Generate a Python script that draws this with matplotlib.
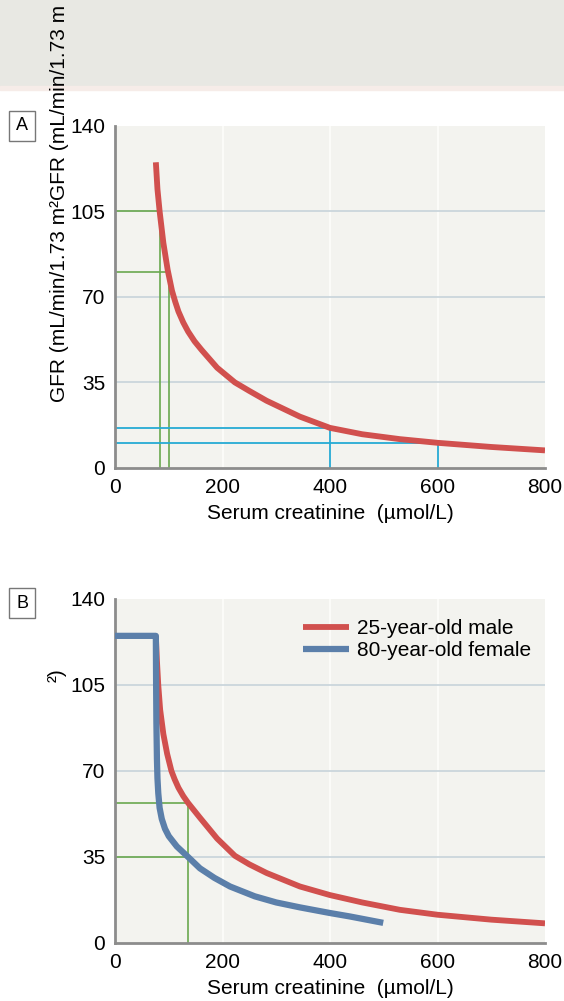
import numpy as np
import matplotlib
matplotlib.use("Agg")
import matplotlib.pyplot as plt
from matplotlib.patches import Rectangle

plt.rcParams['font.family'] = ['Liberation Sans', 'DejaVu Sans']

## DATA
# panel A: GFR vs serum creatinine
cr_red_a = [76, 79, 83, 90, 98, 106, 112, 118, 127, 136, 148, 161, 190, 223, 250, 282, 344, 400, 460, 530, 600, 700, 800]
gfr_red_a = [125, 114, 105, 92, 81, 72.5, 68, 64, 59.5, 55.8, 51.8, 48.3, 41, 35, 31.5, 27.5, 21, 16.4, 13.8, 11.8, 10.3, 8.6, 7.2]

# reference markers in A
green_a_x = [83, 100]
green_a_y = [105, 80]
blue_a_x = [400, 600]
blue_a_y = [16.2, 10.2]

# panel B: young male vs old female
cr_red_b = [76, 78, 80.5, 84, 90, 97, 105, 111, 118, 127, 136, 158, 190, 223, 250, 282, 344, 400, 460, 530, 600, 700, 800]
gfr_red_b = [125, 115, 105, 95, 85, 77, 70, 66.6, 63.2, 59.8, 57, 51, 42.5, 35.5, 32, 28.5, 23, 19.5, 16.5, 13.5, 11.5, 9.5, 8]
cr_blue_b = [0, 76, 76.5, 77, 78, 79, 80.5, 83, 87, 93, 100, 115, 136, 158, 185, 214, 260, 300, 344, 400, 437, 499]
gfr_blue_b = [125, 125, 105, 90, 75, 67, 61, 55, 50.5, 46.5, 43.5, 39.3, 35, 30.4, 26.5, 23, 19, 16.5, 14.5, 12.2, 10.8, 8.2]
green_b_x = 136
green_b_y = [57, 35]

labels_b = ['25-year-old male', '80-year-old female']

x_ticks = [0, 200, 400, 600, 800]
y_ticks = [0, 35, 70, 105, 140]

RED = '#d1504e'
BLUE = '#5b7faa'
GREEN = '#6aa84f'
CYAN = '#26aad4'
BG = '#f3f3ef'
GRID = '#cbd6dc'
SPINE = '#8c8c8c'
FS = 15


def style_axes(ax):
    ax.set_facecolor(BG)
    ax.set_xlim(0, 800)
    ax.set_ylim(0, 140)
    ax.set_xticks(x_ticks)
    ax.set_yticks(y_ticks)
    ax.tick_params(length=0, labelsize=FS, pad=7)
    ax.tick_params(axis='x', pad=7)
    for s in ['top', 'right']:
        ax.spines[s].set_visible(False)
    for s in ['left', 'bottom']:
        ax.spines[s].set_color(SPINE)
        ax.spines[s].set_linewidth(2)
    for y in y_ticks[1:-1]:
        ax.axhline(y, color=GRID, lw=1.3, zorder=1)
    for x in x_ticks[1:-1]:
        ax.axvline(x, color='#fbfbf8', lw=1.5, zorder=0.5)
    ax.set_xlabel('Serum creatinine  (\u00b5mol/L)', fontsize=FS, labelpad=5)


fig = plt.figure(figsize=(5.64, 10.01), dpi=100)

# grey band at top of page
fig.patches.append(Rectangle((0, 1 - 86 / 1001), 1, 86 / 1001, transform=fig.transFigure,
                             color='#e8e8e3', zorder=0))
fig.patches.append(Rectangle((0, 1 - 90 / 1001), 1, 4 / 1001, transform=fig.transFigure,
                             color='#f6ece8', zorder=0))

ax_a = fig.add_axes([115 / 564, 1 - 468 / 1001, 430 / 564, 342.4 / 1001])
ax_b = fig.add_axes([115 / 564, 1 - 943 / 1001, 430 / 564, 344 / 1001])

# ---- panel A
style_axes(ax_a)
for x, y in zip(green_a_x, green_a_y):
    ax_a.plot([0, x, x], [y, y, 0], color=GREEN, lw=1.2, zorder=2)
for x, y in zip(blue_a_x, blue_a_y):
    ax_a.plot([0, x, x], [y, y, 0], color=CYAN, lw=1.3, zorder=2)
ax_a.plot(cr_red_a, gfr_red_a, color=RED, lw=4.2, solid_capstyle='butt',
          solid_joinstyle='round', zorder=3)

# ---- panel B
style_axes(ax_b)
ax_b.plot([0, green_b_x, green_b_x], [green_b_y[0], green_b_y[0], 0], color=GREEN, lw=1.2, zorder=2)
ax_b.plot([0, green_b_x], [green_b_y[1], green_b_y[1]], color=GREEN, lw=1.2, zorder=2)
ax_b.plot(cr_red_b, gfr_red_b, color=RED, lw=4.2, solid_capstyle='butt',
          solid_joinstyle='round', zorder=3, label=labels_b[0])
ax_b.plot(cr_blue_b, gfr_blue_b, color=BLUE, lw=4.5, solid_capstyle='butt',
          solid_joinstyle='round', zorder=4, label=labels_b[1])
ax_b.legend(loc='upper left', bbox_to_anchor=(0.437, 0.942), frameon=False, fontsize=FS,
            handlelength=2.2, handletextpad=0.4, labelspacing=0.15, borderpad=0, borderaxespad=0)

# panel letters
for letter, ypx in [('A', 126), ('B', 603)]:
    fig.text(22 / 564, 1 - ypx / 1001, letter, fontsize=13, ha='center', va='center',
             bbox=dict(boxstyle='square,pad=0.38', fc='white', ec='#777777', lw=1))

# y labels (overlapping as in the source)
fig.text(60 / 564, 1 - 402 / 1001, 'GFR (mL/min/1.73 m\u00b2GFR (mL/min/1.73 m', rotation=90,
         fontsize=FS, ha='center', va='bottom')
fig.text(57 / 564, 1 - 682 / 1001, '\u00b2)', rotation=90, fontsize=FS, ha='center', va='bottom')

fig.savefig('out.png', dpi=100)
